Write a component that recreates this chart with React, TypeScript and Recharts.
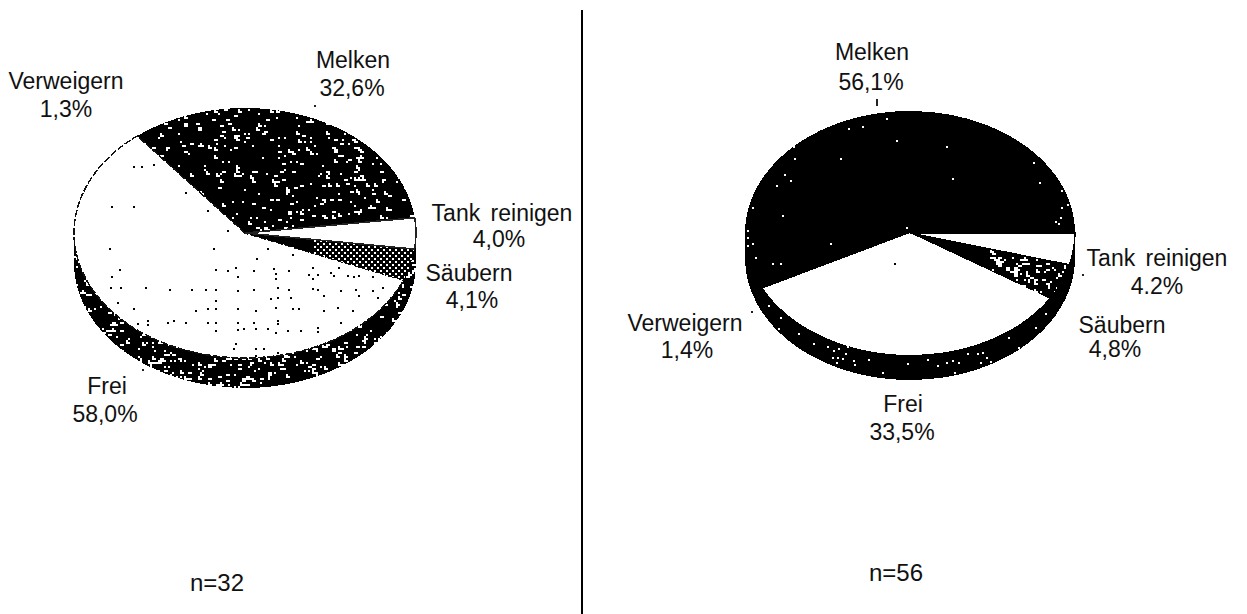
import React from "react";
import { PieChart, Pie, Cell } from "recharts";

// ---- data ----
const categories = ["Melken", "Verweigern", "Frei", "Säubern", "Tank reinigen"];
const leftValues = [32.6, 1.3, 58.0, 4.1, 4.0];
const rightValues = [56.1, 1.4, 33.5, 4.8, 4.2];
const leftPercents = ["32,6%", "1,3%", "58,0%", "4,1%", "4,0%"];
const rightPercents = ["56,1%", "1,4%", "33,5%", "4,8%", "4.2%"];
const leftCount = "n=32";
const rightCount = "n=56";

// ---- layout & style ----
const W = 1247, H = 614;
const FONT = "'Liberation Sans', Arial, sans-serif";
const FS = 23;
const COUNT_FS = 24;
type Spot = { nx: number; ny: number; px: number; py: number; tick?: [number, number, number, number] };
const leftSpots: Spot[] = [
  { nx: 353, ny: 68, px: 352, py: 96, tick: [314, 105, 2, 2] },
  { nx: 66, ny: 89, px: 66, py: 117 },
  { nx: 107, ny: 394, px: 105, py: 422, tick: [142, 369, 2, 2] },
  { nx: 469, ny: 281, px: 472, py: 308 },
  { nx: 502, ny: 221, px: 499, py: 247 },
];
const rightSpots: Spot[] = [
  { nx: 872, ny: 60, px: 871, py: 90, tick: [876, 99, 2, 7] },
  { nx: 685, ny: 331, px: 687, py: 358, tick: [751, 311, 2, 2] },
  { nx: 903, ny: 412, px: 902, py: 440 },
  { nx: 1122, ny: 333, px: 1115, py: 357 },
  { nx: 1157, ny: 266, px: 1157, py: 294, tick: [1082, 274, 2, 2] },
];
const leftFills = ["url(#lMelken)", "url(#lMelken)", "url(#lFrei)", "url(#lSaeubern)", "#fff"];
const rightFills = ["url(#rMelken)", "#000", "url(#rFrei)", "url(#rSaeubern)", "#fff"];
const leftStrokes = ["none", "none", "#111", "none", "#222"];
const rightStrokes = ["none", "none", "none", "none", "#000"];
const leftDashes = ["", "", "7 2", "", ""];
const rightDashes = ["", "", "", "", ""];

const L = { cx: 245, cy: 233, rx: 171, ry: 125, depth: 30, start: 7 };
const R = { cx: 910, cy: 233, rx: 165, ry: 122, depth: 25, start: 0 };

// texture dots, in crop coordinates (3x) of each pie's box
const lFreiDots = [[218,228],[243,228],[280,222],[375,305],[153,348],[218,348],[442,360],[500,420],[147,475],[460,475],[622,475],[695,492],[587,505],[178,537],[465,537],[500,540],[525,530],[580,540],[640,535],[685,540],[755,530],[810,545],[835,530],[153,558],[532,558],[645,550],[645,565],[745,552],[770,552],[755,565],[820,555],[860,555],[880,558],[895,555],[935,558],[150,592],[180,592],[255,590],[327,597],[393,597],[435,597],[465,597],[532,600],[580,597],[650,590],[685,597],[755,595],[770,597],[840,600],[885,597],[935,600],[965,592],[170,636],[465,630],[630,625],[650,620],[690,620],[790,615],[895,615],[950,620],[218,655],[405,660],[440,655],[465,655],[532,655],[585,660],[645,650],[695,655],[715,655],[790,660],[830,650],[875,660],[232,700],[262,690],[262,703],[322,697],[340,690],[375,697],[440,697],[465,695],[532,697],[580,697],[650,690],[650,700],[840,697],[465,720],[532,718],[550,715],[585,715],[620,715],[645,725],[680,720],[720,720],[770,712],[770,722],[525,760],[520,775],[585,775],[610,775],[650,785],[585,795]];
const rMelkenDots = [[468,85],[355,115],[397,108],[498,150],[648,168],[190,168],[192,205],[330,205],[162,253],[180,270],[138,285],[666,265],[908,217],[926,277],[992,300],[992,350],[1010,343],[990,380],[975,392],[985,398],[65,350],[155,375],[528,410],[52,420],[50,440],[65,460],[50,465],[300,458],[75,500],[125,518],[150,518]];
const rFreiDots = [[492,518]];
const rRimDots = [[113,645],[150,682],[143,713],[203,730],[250,760],[290,768],[310,780],[325,775],[352,768],[305,800],[320,800],[335,805],[318,815],[345,790],[370,810],[372,822],[415,808],[530,820],[590,808],[620,825],[648,815],[665,810],[685,815],[710,790],[740,790],[755,785],[768,800],[750,815],[780,812],[835,742],[865,772],[915,712],[945,670],[457,845],[672,845]];

// Stipple texture only (not chart data): a fixed speckle with small clumps.
function speckle(count: number, x0: number, y0: number, w: number, h: number, seed: number) {
  let s = seed;
  const next = () => ((s = (s * 1103515245 + 12345) & 0x7fffffff) >> 8);
  const out: number[][] = [];
  for (let i = 0; i < count; i++) {
    const x = x0 + Math.floor((next() % w) / 2) * 2;
    const y = y0 + Math.floor((next() % h) / 2) * 2;
    out.push([x, y]);
    const k = next() % 4;
    if (k === 0) out.push([x + 2, y]);
    if (k === 1) out.push([x, y + 2], [x + 2, y + 2]);
  }
  return out;
}
const lMelkenDots = speckle(470, 130, 107, 286, 128, 7);
const lRimDots = speckle(1000, 74, 250, 342, 138, 21);
const rSaeubernDots = speckle(150, 990, 245, 80, 55, 11);
const lSaeubernDots: number[][] = [];
for (let y = 234; y < 290; y += 3) {
  for (let x = 290 + ((y / 3) % 2 ? 3 : 0); x < 418; x += 6) {
    if (x > 305 + (340 - x) * 0.3 || (x + y) % 9 === 0) lSaeubernDots.push([x, y]);
  }
}

function Dots({ id, bg, color, dots, ox = 0, oy = 0, scale = 1, size = 2 }: any) {
  return (
    <pattern id={id} patternUnits="userSpaceOnUse" x={0} y={0} width={W} height={H}>
      <rect x={0} y={0} width={W} height={H} fill={bg} />
      {dots.map((d: number[], i: number) => (
        <rect key={i} x={Math.round(ox + d[0] * scale)} y={Math.round(oy + d[1] * scale)} width={size} height={size} fill={color} shapeRendering="crispEdges" />
      ))}
    </pattern>
  );
}

const rad = (a: number) => (a * Math.PI) / 180;
function ept(cx: number, cy: number, rx: number, ry: number, a: number) {
  return [cx + rx * Math.cos(rad(a)), cy - ry * Math.sin(rad(a))];
}

function TopFace(geo: typeof L, strokes: string[], dashes: string[]) {
  return (p: any) => {
    const { startAngle: a1, endAngle: a2, fill, index } = p;
    const [x1, y1] = ept(geo.cx, geo.cy, geo.rx, geo.ry, a1);
    const [x2, y2] = ept(geo.cx, geo.cy, geo.rx, geo.ry, a2);
    const large = Math.abs(a2 - a1) > 180 ? 1 : 0;
    const d = `M${geo.cx},${geo.cy}L${x1},${y1}A${geo.rx},${geo.ry} 0 ${large} 0 ${x2},${y2}Z`;
    const stroke = strokes[index];
    return <path d={d} fill={fill} stroke={stroke} strokeWidth={stroke === "none" ? 0 : 1.5} strokeDasharray={dashes[index] || undefined} shapeRendering="crispEdges" />;
  };
}

function RimBand(geo: typeof L) {
  return (p: any) => {
    const a1 = Math.max(p.startAngle, 180);
    const a2 = Math.min(p.endAngle, 360);
    if (a2 <= a1) return <g />;
    const [x1, y1] = ept(geo.cx, geo.cy, geo.rx, geo.ry, a1);
    const [x2, y2] = ept(geo.cx, geo.cy, geo.rx, geo.ry, a2);
    const large = a2 - a1 > 180 ? 1 : 0;
    const d = `M${x1},${y1}A${geo.rx},${geo.ry} 0 ${large} 0 ${x2},${y2}L${x2},${y2 + geo.depth}A${geo.rx},${geo.ry} 0 ${large} 1 ${x1},${y1 + geo.depth}Z`;
    return <path d={d} fill={p.fill} stroke="none" shapeRendering="crispEdges" />;
  };
}

function labeler(spots: Spot[], percents: string[]) {
  return (p: any) => {
    const s = spots[p.index];
    const t = { fontFamily: FONT, fontSize: FS, fill: "#111", textAnchor: "middle" as const };
    return (
      <g>
        <text x={s.nx} y={s.ny} wordSpacing={4} {...t}>{categories[p.index]}</text>
        <text x={s.px} y={s.py} {...t}>{percents[p.index]}</text>
        {s.tick && <rect x={s.tick[0]} y={s.tick[1]} width={s.tick[2]} height={s.tick[3]} fill="#222" />}
      </g>
    );
  };
}

const tbl = (vals: number[]) => categories.map((name, i) => ({ name, value: vals[i] }));
const leftData = tbl(leftValues);
const rightData = tbl(rightValues);

export default function App() {
  const common = { dataKey: "value", nameKey: "name", innerRadius: 0, isAnimationActive: false, stroke: "none" } as const;
  return (
    <div style={{ position: "absolute", left: 0, top: 0, width: W, height: H, background: "#fff" }}>
      <PieChart width={W} height={H} margin={{ top: 0, right: 0, bottom: 0, left: 0 }}>
        <defs>
          <Dots id="lMelken" bg="#000" color="#fff" dots={lMelkenDots} />
          <Dots id="lRim" bg="#000" color="#fff" dots={lRimDots} />
          <Dots id="lSaeubern" bg="#000" color="#fff" dots={lSaeubernDots} />
          <Dots id="lFrei" bg="#fff" color="#000" dots={lFreiDots} ox={60} oy={90} scale={1 / 3} />
          <Dots id="rMelken" bg="#000" color="#fff" dots={rMelkenDots} ox={730} oy={90} scale={1 / 3} />
          <Dots id="rFrei" bg="#fff" color="#000" dots={rFreiDots} ox={730} oy={90} scale={1 / 3} />
          <Dots id="rSaeubern" bg="#000" color="#fff" dots={rSaeubernDots} />
          <Dots id="rRim" bg="#000" color="#fff" dots={rRimDots} ox={730} oy={90} scale={1 / 3} />
        </defs>

        <Pie {...common} data={leftData} cx={L.cx} cy={L.cy} outerRadius={L.rx} startAngle={L.start} endAngle={L.start + 360}
          shape={RimBand(L)} fill="url(#lRim)" label={false} labelLine={false} />
        <Pie {...common} data={rightData} cx={R.cx} cy={R.cy} outerRadius={R.rx} startAngle={R.start} endAngle={R.start + 360}
          shape={RimBand(R)} fill="url(#rRim)" label={false} labelLine={false} />

        <Pie {...common} data={leftData} cx={L.cx} cy={L.cy} outerRadius={L.rx} startAngle={L.start} endAngle={L.start + 360}
          shape={TopFace(L, leftStrokes, leftDashes)} label={labeler(leftSpots, leftPercents)} labelLine={false}>
          {leftFills.map((f, i) => <Cell key={i} fill={f} />)}
        </Pie>
        <Pie {...common} data={rightData} cx={R.cx} cy={R.cy} outerRadius={R.rx} startAngle={R.start} endAngle={R.start + 360}
          shape={TopFace(R, rightStrokes, rightDashes)} label={labeler(rightSpots, rightPercents)} labelLine={false}>
          {rightFills.map((f, i) => <Cell key={i} fill={f} />)}
        </Pie>

        <line x1={582} y1={10} x2={582} y2={H} stroke="#000" strokeWidth={2} />
        <text x={217} y={591} textAnchor="middle" fontFamily={FONT} fontSize={COUNT_FS} fill="#111">{leftCount}</text>
        <text x={896} y={581} textAnchor="middle" fontFamily={FONT} fontSize={COUNT_FS} fill="#111">{rightCount}</text>
      </PieChart>
    </div>
  );
}
